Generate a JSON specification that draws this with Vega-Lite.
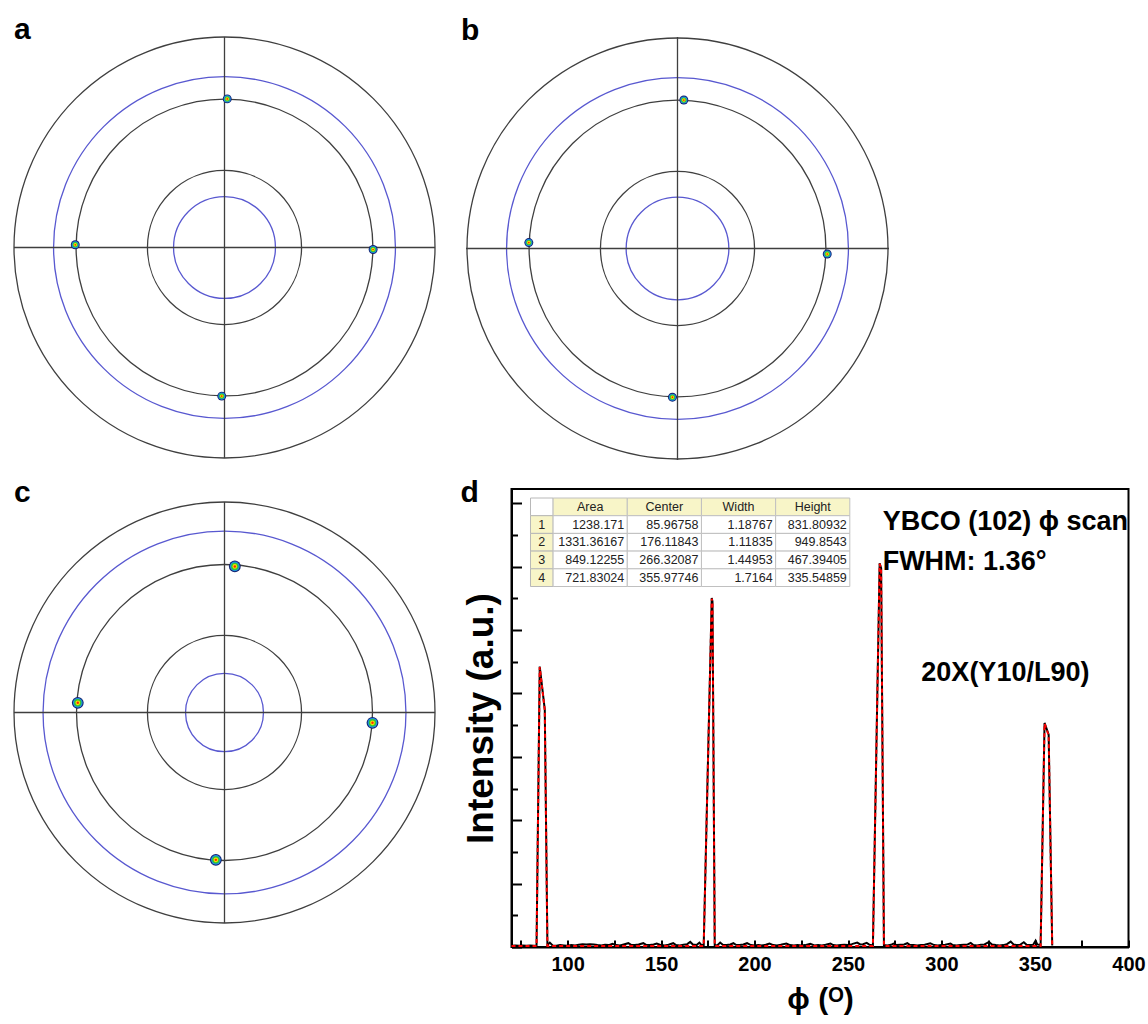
{
  "$schema": "https://vega.github.io/schema/vega-lite/v6.json",
  "padding": {"left": 11, "top": 15, "right": 0, "bottom": 0},
  "background": "white",
  "config": {
    "font": "Liberation Sans, Arial, DejaVu Sans",
    "view": {"stroke": null},
    "title": {"fontSize": 30, "fontWeight": "bold", "anchor": "start", "frame": "group", "baseline": "alphabetic", "offset": -11, "color": "black"}
  },
  "datasets": {
    "rings": [
      {"fig": "a", "r": 1, "kind": "grid"}, {"fig": "a", "r": 0.705, "kind": "grid"}, {"fig": "a", "r": 0.366, "kind": "grid"},
      {"fig": "a", "r": 0.812, "kind": "ref"}, {"fig": "a", "r": 0.242, "kind": "ref"},
      {"fig": "b", "r": 1, "kind": "grid"}, {"fig": "b", "r": 0.705, "kind": "grid"}, {"fig": "b", "r": 0.366, "kind": "grid"},
      {"fig": "b", "r": 0.812, "kind": "ref"}, {"fig": "b", "r": 0.244, "kind": "ref"},
      {"fig": "c", "r": 1, "kind": "grid"}, {"fig": "c", "r": 0.703, "kind": "grid"}, {"fig": "c", "r": 0.366, "kind": "grid"},
      {"fig": "c", "r": 0.862, "kind": "ref"}, {"fig": "c", "r": 0.185, "kind": "ref"}
    ],
    "spots": [
      {"fig": "a", "x": 0.013, "y": 0.706}, {"fig": "a", "x": -0.709, "y": 0.013}, {"fig": "a", "x": 0.706, "y": -0.0095}, {"fig": "a", "x": -0.013, "y": -0.706},
      {"fig": "b", "x": 0.030, "y": 0.702}, {"fig": "b", "x": -0.703, "y": 0.028}, {"fig": "b", "x": 0.708, "y": -0.026}, {"fig": "b", "x": -0.024, "y": -0.703},
      {"fig": "c", "x": 0.049, "y": 0.694}, {"fig": "c", "x": -0.697, "y": 0.046}, {"fig": "c", "x": 0.703, "y": -0.049}, {"fig": "c", "x": -0.041, "y": -0.700}
    ],
    "notes": [
      {"phi": 268.5, "I": 1316, "text": "YBCO (102) ϕ scan"},
      {"phi": 268.5, "I": 1190, "text": "FWHM: 1.36°"},
      {"phi": 289.2, "I": 838, "text": "20X(Y10/L90)"}
    ],
    "scan": [
      {"phi": 70, "I": 4}, {"phi": 72, "I": 5}, {"phi": 74, "I": 4}, {"phi": 76, "I": 5}, {"phi": 78, "I": 4}, {"phi": 80, "I": 5}, {"phi": 82, "I": 4},
      {"phi": 83.4, "I": 5}, {"phi": 85.1, "I": 885}, {"phi": 87.8, "I": 749}, {"phi": 89.2, "I": 6}, {"phi": 90.5, "I": 14},
      {"phi": 92, "I": 5}, {"phi": 94, "I": 4}, {"phi": 96, "I": 6}, {"phi": 98, "I": 5}, {"phi": 100, "I": 4}, {"phi": 102, "I": 6},
      {"phi": 104, "I": 5}, {"phi": 106, "I": 7}, {"phi": 108, "I": 9}, {"phi": 110, "I": 8}, {"phi": 112, "I": 9}, {"phi": 114, "I": 8},
      {"phi": 116, "I": 6}, {"phi": 118, "I": 5}, {"phi": 120, "I": 7}, {"phi": 122, "I": 6}, {"phi": 124, "I": 10}, {"phi": 126, "I": 6},
      {"phi": 128, "I": 5}, {"phi": 130, "I": 8}, {"phi": 132.5, "I": 12}, {"phi": 134, "I": 7}, {"phi": 136, "I": 6}, {"phi": 138, "I": 8},
      {"phi": 140.5, "I": 12}, {"phi": 142, "I": 7}, {"phi": 144, "I": 6}, {"phi": 146, "I": 8}, {"phi": 147.7, "I": 11}, {"phi": 150, "I": 6},
      {"phi": 152, "I": 5}, {"phi": 154, "I": 7}, {"phi": 156.5, "I": 12}, {"phi": 158, "I": 6}, {"phi": 160, "I": 5}, {"phi": 162, "I": 7},
      {"phi": 164, "I": 9}, {"phi": 165.6, "I": 16}, {"phi": 167, "I": 8}, {"phi": 169, "I": 6}, {"phi": 170.5, "I": 14}, {"phi": 171.5, "I": 7},
      {"phi": 172.8, "I": 5}, {"phi": 177.1, "I": 1101}, {"phi": 177.5, "I": 1090}, {"phi": 178.7, "I": 6},
      {"phi": 180, "I": 5}, {"phi": 181.6, "I": 14}, {"phi": 183, "I": 7}, {"phi": 185, "I": 6}, {"phi": 187, "I": 8}, {"phi": 188.7, "I": 12},
      {"phi": 190, "I": 7}, {"phi": 192, "I": 6}, {"phi": 194, "I": 8}, {"phi": 196, "I": 12}, {"phi": 198, "I": 6}, {"phi": 200, "I": 5},
      {"phi": 202, "I": 6}, {"phi": 204, "I": 5}, {"phi": 206, "I": 7}, {"phi": 208, "I": 11}, {"phi": 210, "I": 6}, {"phi": 212, "I": 5},
      {"phi": 214, "I": 7}, {"phi": 217, "I": 11}, {"phi": 219, "I": 6}, {"phi": 221, "I": 5}, {"phi": 223, "I": 6}, {"phi": 225, "I": 5},
      {"phi": 227, "I": 6}, {"phi": 229.8, "I": 10}, {"phi": 232, "I": 5}, {"phi": 234, "I": 6}, {"phi": 236, "I": 5}, {"phi": 238, "I": 7},
      {"phi": 240.6, "I": 11}, {"phi": 242, "I": 6}, {"phi": 244, "I": 5}, {"phi": 246, "I": 6}, {"phi": 248, "I": 7}, {"phi": 250, "I": 6},
      {"phi": 252, "I": 9}, {"phi": 254.9, "I": 14}, {"phi": 256.5, "I": 8}, {"phi": 258, "I": 9}, {"phi": 260, "I": 13}, {"phi": 261.5, "I": 7},
      {"phi": 263.3, "I": 5}, {"phi": 266.9, "I": 1211}, {"phi": 267.7, "I": 1195}, {"phi": 269.2, "I": 6},
      {"phi": 271, "I": 5}, {"phi": 273, "I": 7}, {"phi": 274.3, "I": 11}, {"phi": 276, "I": 6}, {"phi": 278, "I": 7}, {"phi": 280, "I": 8},
      {"phi": 281.7, "I": 12}, {"phi": 283, "I": 7}, {"phi": 285, "I": 6}, {"phi": 287, "I": 5}, {"phi": 289, "I": 6}, {"phi": 291, "I": 7},
      {"phi": 294, "I": 12}, {"phi": 296, "I": 6}, {"phi": 298, "I": 5}, {"phi": 300, "I": 6}, {"phi": 302, "I": 7}, {"phi": 304.8, "I": 11},
      {"phi": 306, "I": 6}, {"phi": 308, "I": 5}, {"phi": 310, "I": 6}, {"phi": 312, "I": 7}, {"phi": 314, "I": 8}, {"phi": 315.6, "I": 13},
      {"phi": 317, "I": 6}, {"phi": 319, "I": 5}, {"phi": 321, "I": 7}, {"phi": 323, "I": 8}, {"phi": 325.4, "I": 16}, {"phi": 327, "I": 8},
      {"phi": 329, "I": 6}, {"phi": 331, "I": 5}, {"phi": 333, "I": 6}, {"phi": 335, "I": 9}, {"phi": 337, "I": 17}, {"phi": 338.5, "I": 8},
      {"phi": 340, "I": 6}, {"phi": 342, "I": 7}, {"phi": 344, "I": 15}, {"phi": 345.5, "I": 7}, {"phi": 347, "I": 6}, {"phi": 349, "I": 7},
      {"phi": 350.3, "I": 20}, {"phi": 351.2, "I": 8}, {"phi": 353, "I": 6}, {"phi": 355.1, "I": 707}, {"phi": 357.3, "I": 670}, {"phi": 359.2, "I": 5}
    ],
    "fit": [
      {"phi": 70, "I": 3}, {"phi": 83.4, "I": 3}, {"phi": 85.1, "I": 883}, {"phi": 87.8, "I": 747}, {"phi": 89.2, "I": 3},
      {"phi": 172.8, "I": 3}, {"phi": 177.1, "I": 1099}, {"phi": 177.5, "I": 1088}, {"phi": 178.7, "I": 3},
      {"phi": 263.3, "I": 3}, {"phi": 266.9, "I": 1209}, {"phi": 267.7, "I": 1193}, {"phi": 269.2, "I": 3},
      {"phi": 353, "I": 3}, {"phi": 355.1, "I": 705}, {"phi": 357.3, "I": 668}, {"phi": 359.2, "I": 3}
    ],
    "rownums": [
      {"row": "h", "num": "", "part": "blank"},
      {"row": "1", "num": "1", "part": "label"},
      {"row": "2", "num": "2", "part": "label"},
      {"row": "3", "num": "3", "part": "label"},
      {"row": "4", "num": "4", "part": "label"}
    ],
    "table": [
      {"row": "h", "col": "Area", "text": "Area", "part": "label"},
      {"row": "h", "col": "Center", "text": "Center", "part": "label"},
      {"row": "h", "col": "Width", "text": "Width", "part": "label"},
      {"row": "h", "col": "Height", "text": "Height", "part": "label"},
      {"row": "1", "col": "Area", "text": "1238.171", "part": "value"},
      {"row": "1", "col": "Center", "text": "85.96758", "part": "value"},
      {"row": "1", "col": "Width", "text": "1.18767", "part": "value"},
      {"row": "1", "col": "Height", "text": "831.80932", "part": "value"},
      {"row": "2", "col": "Area", "text": "1331.36167", "part": "value"},
      {"row": "2", "col": "Center", "text": "176.11843", "part": "value"},
      {"row": "2", "col": "Width", "text": "1.11835", "part": "value"},
      {"row": "2", "col": "Height", "text": "949.8543", "part": "value"},
      {"row": "3", "col": "Area", "text": "849.12255", "part": "value"},
      {"row": "3", "col": "Center", "text": "266.32087", "part": "value"},
      {"row": "3", "col": "Width", "text": "1.44953", "part": "value"},
      {"row": "3", "col": "Height", "text": "467.39405", "part": "value"},
      {"row": "4", "col": "Area", "text": "721.83024", "part": "value"},
      {"row": "4", "col": "Center", "text": "355.97746", "part": "value"},
      {"row": "4", "col": "Width", "text": "1.7164", "part": "value"},
      {"row": "4", "col": "Height", "text": "335.54859", "part": "value"}
    ]
  },
  "spacing": 15,
  "vconcat": [
    {
      "spacing": 23,
      "hconcat": [
        {
          "title": {"text": "a"},
          "width": 421, "height": 421,
          "layer": [
            {
              "data": {"name": "rings"},
              "transform": [{"filter": "datum.fig === 'a'"}],
              "mark": {"type": "point", "shape": "circle", "filled": false, "strokeWidth": 1.3, "opacity": 1},
              "encoding": {
                "x": {"datum": 0, "type": "quantitative", "scale": {"domain": [-1, 1], "nice": false, "zero": false}, "axis": null},
                "y": {"datum": 0, "type": "quantitative", "scale": {"domain": [-1, 1], "nice": false, "zero": false}, "axis": null},
                "size": {"field": "r", "type": "quantitative", "scale": {"type": "pow", "exponent": 2, "domain": [0, 1], "range": [0, 177241]}, "legend": null},
                "stroke": {"field": "kind", "type": "nominal", "scale": {"domain": ["grid", "ref"], "range": ["#3f3f3f", "#5858d0"]}, "legend": null}
              }
            },
            {
              "data": {"values": [{}]},
              "mark": {"type": "rule", "color": "#3f3f3f", "strokeWidth": 1.3},
              "encoding": {"x": {"datum": -1, "type": "quantitative"}, "x2": {"datum": 1}, "y": {"datum": 0, "type": "quantitative"}}
            },
            {
              "data": {"values": [{}]},
              "mark": {"type": "rule", "color": "#3f3f3f", "strokeWidth": 1.3},
              "encoding": {"y": {"datum": -1, "type": "quantitative"}, "y2": {"datum": 1}, "x": {"datum": 0, "type": "quantitative"}}
            },
            {
              "data": {"name": "spots"},
              "transform": [{"filter": "datum.fig === 'a'"}],
              "encoding": {"x": {"field": "x", "type": "quantitative"}, "y": {"field": "y", "type": "quantitative"}},
              "layer": [
                {"mark": {"type": "point", "shape": "circle", "filled": true, "opacity": 1, "size": 80, "color": "#14206e", "strokeWidth": 0}},
                {"mark": {"type": "point", "shape": "circle", "filled": true, "opacity": 1, "size": 50, "color": "#1e90e8", "strokeWidth": 0}},
                {"mark": {"type": "point", "shape": "circle", "filled": true, "opacity": 1, "size": 28, "color": "#34c434", "strokeWidth": 0}},
                {"mark": {"type": "point", "shape": "circle", "filled": true, "opacity": 1, "size": 12, "color": "#f2e600", "strokeWidth": 0}},
                {"mark": {"type": "point", "shape": "circle", "filled": true, "opacity": 1, "size": 3, "color": "#ff2a00", "strokeWidth": 0}}
              ]
            }
          ]
        },
        {
          "title": {"text": "b", "dx": -5},
          "width": 423, "height": 423,
          "layer": [
            {
              "data": {"name": "rings"},
              "transform": [{"filter": "datum.fig === 'b'"}],
              "mark": {"type": "point", "shape": "circle", "filled": false, "strokeWidth": 1.3, "opacity": 1},
              "encoding": {
                "x": {"datum": 0, "type": "quantitative", "scale": {"domain": [-1, 1], "nice": false, "zero": false}, "axis": null},
                "y": {"datum": 0, "type": "quantitative", "scale": {"domain": [-1, 1], "nice": false, "zero": false}, "axis": null},
                "size": {"field": "r", "type": "quantitative", "scale": {"type": "pow", "exponent": 2, "domain": [0, 1], "range": [0, 178929]}, "legend": null},
                "stroke": {"field": "kind", "type": "nominal", "scale": {"domain": ["grid", "ref"], "range": ["#3f3f3f", "#5858d0"]}, "legend": null}
              }
            },
            {
              "data": {"values": [{}]},
              "mark": {"type": "rule", "color": "#3f3f3f", "strokeWidth": 1.3},
              "encoding": {"x": {"datum": -1, "type": "quantitative"}, "x2": {"datum": 1}, "y": {"datum": 0, "type": "quantitative"}}
            },
            {
              "data": {"values": [{}]},
              "mark": {"type": "rule", "color": "#3f3f3f", "strokeWidth": 1.3},
              "encoding": {"y": {"datum": -1, "type": "quantitative"}, "y2": {"datum": 1}, "x": {"datum": 0, "type": "quantitative"}}
            },
            {
              "data": {"name": "spots"},
              "transform": [{"filter": "datum.fig === 'b'"}],
              "encoding": {"x": {"field": "x", "type": "quantitative"}, "y": {"field": "y", "type": "quantitative"}},
              "layer": [
                {"mark": {"type": "point", "shape": "circle", "filled": true, "opacity": 1, "size": 80, "color": "#14206e", "strokeWidth": 0}},
                {"mark": {"type": "point", "shape": "circle", "filled": true, "opacity": 1, "size": 50, "color": "#1e90e8", "strokeWidth": 0}},
                {"mark": {"type": "point", "shape": "circle", "filled": true, "opacity": 1, "size": 28, "color": "#34c434", "strokeWidth": 0}},
                {"mark": {"type": "point", "shape": "circle", "filled": true, "opacity": 1, "size": 12, "color": "#f2e600", "strokeWidth": 0}},
                {"mark": {"type": "point", "shape": "circle", "filled": true, "opacity": 1, "size": 3, "color": "#ff2a00", "strokeWidth": 0}}
              ]
            }
          ]
        }
      ]
    },
    {
      "spacing": 21.5,
      "hconcat": [
        {
          "title": {"text": "c", "offset": -19},
          "width": 421, "height": 434,
          "layer": [
            {
              "data": {"name": "rings"},
              "transform": [{"filter": "datum.fig === 'c'"}],
              "mark": {"type": "point", "shape": "circle", "filled": false, "strokeWidth": 1.3, "opacity": 1},
              "encoding": {
                "x": {"datum": 0, "type": "quantitative", "scale": {"domain": [-1, 1], "nice": false, "zero": false}, "axis": null},
                "y": {"datum": 0, "type": "quantitative", "scale": {"domain": [-1, 1.0618], "nice": false, "zero": false}, "axis": null},
                "size": {"field": "r", "type": "quantitative", "scale": {"type": "pow", "exponent": 2, "domain": [0, 1], "range": [0, 177241]}, "legend": null},
                "stroke": {"field": "kind", "type": "nominal", "scale": {"domain": ["grid", "ref"], "range": ["#3f3f3f", "#5858d0"]}, "legend": null}
              }
            },
            {
              "data": {"values": [{}]},
              "mark": {"type": "rule", "color": "#3f3f3f", "strokeWidth": 1.3},
              "encoding": {"x": {"datum": -1, "type": "quantitative"}, "x2": {"datum": 1}, "y": {"datum": 0, "type": "quantitative"}}
            },
            {
              "data": {"values": [{}]},
              "mark": {"type": "rule", "color": "#3f3f3f", "strokeWidth": 1.3},
              "encoding": {"y": {"datum": -1, "type": "quantitative"}, "y2": {"datum": 1}, "x": {"datum": 0, "type": "quantitative"}}
            },
            {
              "data": {"name": "spots"},
              "transform": [{"filter": "datum.fig === 'c'"}],
              "encoding": {"x": {"field": "x", "type": "quantitative"}, "y": {"field": "y", "type": "quantitative"}},
              "layer": [
                {"mark": {"type": "point", "shape": "circle", "filled": true, "opacity": 1, "size": 140, "color": "#14206e", "strokeWidth": 0}},
                {"mark": {"type": "point", "shape": "circle", "filled": true, "opacity": 1, "size": 95, "color": "#1e90e8", "strokeWidth": 0}},
                {"mark": {"type": "point", "shape": "circle", "filled": true, "opacity": 1, "size": 55, "color": "#34c434", "strokeWidth": 0}},
                {"mark": {"type": "point", "shape": "circle", "filled": true, "opacity": 1, "size": 22, "color": "#f2e600", "strokeWidth": 0}},
                {"mark": {"type": "point", "shape": "circle", "filled": true, "opacity": 1, "size": 6, "color": "#ff2a00", "strokeWidth": 0}}
              ]
            }
          ]
        },
        {
          "title": {"text": "d", "offset": -19, "dx": -51},
          "width": 617, "height": 458,
          "view": {"stroke": "black", "strokeWidth": 2},
          "resolve": {"scale": {"x": "independent", "y": "independent"}},
          "layer": [
            {
              "encoding": {
                "x": {"field": "phi", "type": "quantitative", "title": "ϕ (ᴼ)",
                  "scale": {"domain": [70, 400], "nice": false, "zero": false},
                  "axis": {"values": [75, 100, 125, 150, 175, 200, 225, 250, 275, 300, 325, 350, 375, 400],
                    "labelExpr": "datum.value % 50 === 0 ? datum.label : ''",
                    "tickSize": -7, "tickWidth": 2, "tickColor": "black", "domainColor": "black", "domainWidth": 2,
                    "labelFontSize": 20, "labelFontWeight": "bold", "labelColor": "black", "labelPadding": 14,
                    "labelFlush": false, "labelOverlap": false, "grid": false,
                    "titleFontSize": 30, "titleFontWeight": "bold", "titleColor": "black", "titlePadding": 10}},
                "y": {"field": "I", "type": "quantitative", "title": "Intensity (a.u.)",
                  "scale": {"domain": [0, 1445], "nice": false, "zero": false},
                  "axis": {"values": [0, 100, 200, 300, 400, 500, 600, 700, 800, 900, 1000, 1100, 1200, 1300, 1400],
                    "labels": false, "tickSize": {"condition": {"test": "datum.value % 200 === 0", "value": -10}, "value": -6},
                    "tickWidth": 2, "tickColor": "black", "domainColor": "black", "domainWidth": 2, "grid": false,
                    "titleFontSize": 37, "titleFontWeight": "bold", "titleColor": "black", "titlePadding": 10}}
              },
              "layer": [
                {"data": {"name": "scan"}, "mark": {"type": "line", "color": "black", "strokeWidth": 2}},
                {"data": {"name": "fit"}, "mark": {"type": "line", "color": "#ff0000", "strokeWidth": 2, "strokeDash": [4, 3]}},
                {"data": {"name": "notes"},
                 "mark": {"type": "text", "fontSize": 27, "fontWeight": "bold", "align": "left", "baseline": "alphabetic", "color": "black"},
                 "encoding": {"text": {"field": "text", "type": "nominal"}}}
              ]
            },
            {
              "data": {"name": "rownums"},
              "encoding": {
                "x": {"datum": "#", "type": "nominal", "scale": {"type": "band", "domain": ["#"], "range": [19, 41.6], "paddingInner": 0, "paddingOuter": 0}, "axis": null},
                "y": {"field": "row", "type": "nominal", "scale": {"type": "band", "domain": ["h", "1", "2", "3", "4"], "range": [9, 97.5], "paddingInner": 0, "paddingOuter": 0}, "axis": null}
              },
              "layer": [
                {"mark": {"type": "rect", "stroke": "#b8b8b8", "strokeWidth": 1},
                 "encoding": {"fill": {"field": "part", "type": "nominal", "scale": {"domain": ["label", "value", "blank"], "range": ["#f8f5c8", "#ffffff", "#ffffff"]}, "legend": null}}},
                {"mark": {"type": "text", "fontSize": 12.5, "color": "#222222", "font": "Liberation Sans"},
                 "encoding": {"text": {"field": "num"}}}
              ]
            },
            {
              "data": {"name": "table"},
              "encoding": {
                "x": {"field": "col", "type": "nominal", "scale": {"type": "band", "domain": ["Area", "Center", "Width", "Height"], "range": [41.6, 338.3], "paddingInner": 0, "paddingOuter": 0}, "axis": null},
                "y": {"field": "row", "type": "nominal", "scale": {"type": "band", "domain": ["h", "1", "2", "3", "4"], "range": [9, 97.5], "paddingInner": 0, "paddingOuter": 0}, "axis": null}
              },
              "layer": [
                {"mark": {"type": "rect", "stroke": "#c0c0c0", "strokeWidth": 1},
                 "encoding": {"fill": {"field": "part", "type": "nominal", "scale": {"domain": ["label", "value", "blank"], "range": ["#f8f5c8", "#ffffff", "#ffffff"]}, "legend": null}}},
                {"transform": [{"filter": "datum.part === 'label'"}],
                 "mark": {"type": "text", "fontSize": 12.5, "color": "#222222", "font": "Liberation Sans"},
                 "encoding": {"text": {"field": "text"}}},
                {"transform": [{"filter": "datum.part === 'value'"}],
                 "mark": {"type": "text", "fontSize": 12.5, "color": "#222222", "align": "right", "dx": -3, "font": "Liberation Sans"},
                 "encoding": {"x": {"field": "col", "type": "nominal", "bandPosition": 1}, "text": {"field": "text"}}}
              ]
            }
          ]
        }
      ]
    }
  ]
}
